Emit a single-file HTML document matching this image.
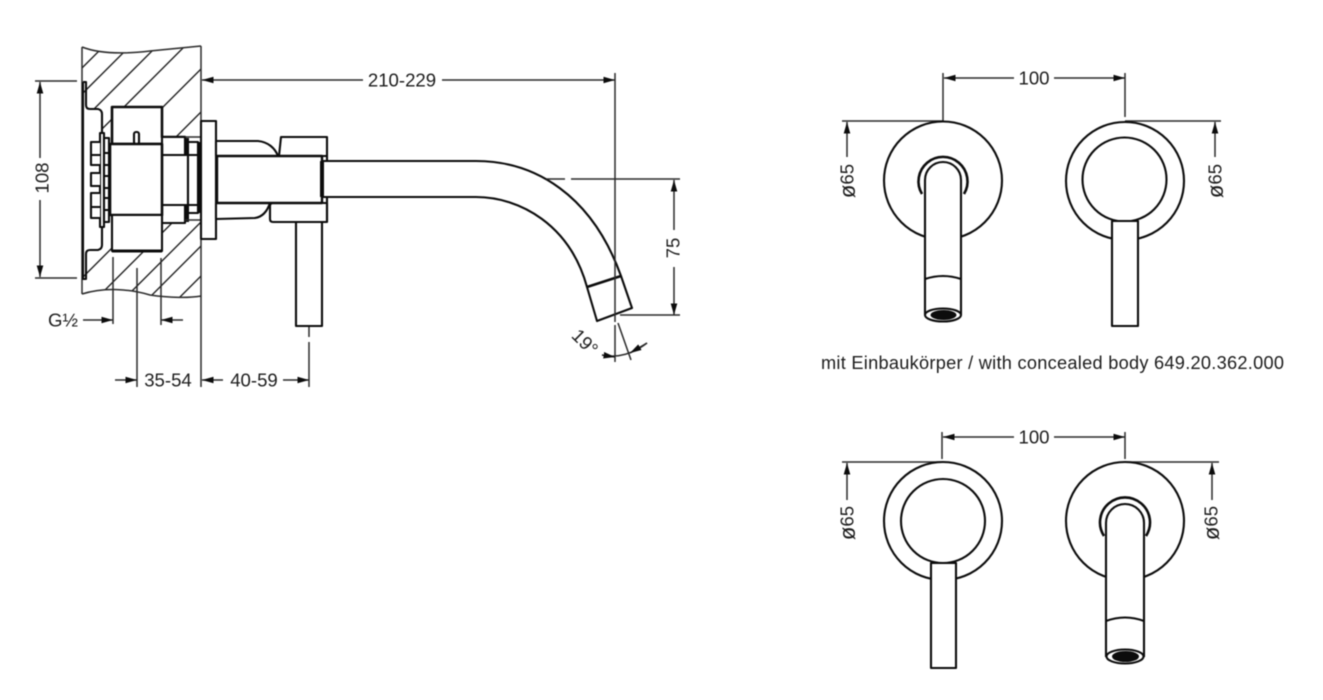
<!DOCTYPE html>
<html><head><meta charset="utf-8"><style>
html,body{margin:0;padding:0;background:#fff;width:1323px;height:700px;overflow:hidden}
svg{display:block;filter:blur(.4px)}
text{font-family:"Liberation Sans",sans-serif;font-size:18.6px;fill:#1c1c1c;text-anchor:middle;dominant-baseline:central}
.o{fill:none;stroke:#0c0c0c;stroke-width:2.1;stroke-linejoin:round}
.w{fill:#fff;stroke:#0c0c0c;stroke-width:2.1;stroke-linejoin:round}
.d{fill:none;stroke:#2a2a2a;stroke-width:1.5}
.h{fill:none;stroke:#222;stroke-width:1.4}
.a{marker-end:url(#ar)}
</style></head><body>
<svg width="1323" height="700" viewBox="0 0 1323 700" xmlns="http://www.w3.org/2000/svg">
<defs>
<marker id="ar" markerUnits="userSpaceOnUse" markerWidth="13" markerHeight="9" refX="11.5" refY="3.5" orient="auto"><path d="M0,0.2L11.5,3.5L0,6.8Z" fill="#0c0c0c"/></marker>
<clipPath id="wall"><path d="M82,47C100,54 125,54 150,51C170,49 190,47 201,46L201,296C190,298 170,298 150,295C130,289 105,287 82,294Z"/></clipPath>
</defs>

<!-- wall -->
<g clip-path="url(#wall)" class="h">
<path d="M60,90L160,-10M60,116L186,-10M60,143L213,-10M60,171L241,-10M60,210L280,-10M60,253L323,-10M60,300L330,30M60,335L330,65M60,363L330,93M60,387L330,117M60,417L330,147"/>
</g>
<path class="d" d="M82,47C100,54 125,54 150,51C170,49 190,47 201,46M82,294C105,287 130,289 150,295C170,298 190,298 201,296M82,47V294M201,46V387"/>
<rect x="83" y="110" width="19" height="139" fill="#fff"/>
<rect x="104" y="137" width="96" height="82" fill="#fff"/>

<!-- bracket -->
<path class="o" d="M83,82H86V105Q86,109 90,109H98Q102,110 102,114V133M83,82V279H86V254Q86,250 90,250H98Q102,249 102,245V226"/>
<rect class="w" x="100" y="133" width="4" height="94"/>
<!-- bolts -->
<path class="w" d="M100,142H91V165H100M100,173H91V186H100M100,193H91V218H100M91,155H100M91,207H100"/>
<path class="w" d="M104,138H109V222H104ZM104,153H109M104,165H109M104,176H109M104,188H109M104,198H109M104,210H109"/>
<!-- body blocks -->
<path class="w" style="stroke-width:2.6" d="M112,144V107H162V137H185V151H162V144Z"/>
<rect class="w" x="134" y="132" width="5" height="12" rx="2"/>
<path class="w" d="M162,155H188V205H162Z"/>
<path class="w" d="M162,205H185V223H162Z"/>
<path class="w" d="M162,137H185V155H162Z"/>
<rect x="185" y="138" width="4" height="17" fill="#0c0c0c"/>
<rect x="185" y="205" width="4" height="17" fill="#0c0c0c"/>
<path class="w" d="M188,142H198V213H188ZM188,155H198M188,205H198"/>
<rect x="197" y="142" width="3" height="71" fill="#0c0c0c"/>
<path class="d" d="M185,137H201M185,220H201"/>
<path class="w" style="stroke-width:2.6" d="M110,144H162V215H110Z"/>
<path class="w" d="M112,215H162V251H112Z"/>
<path d="M112,251H162" stroke="#0c0c0c" stroke-width="3"/>
<rect class="w" x="201" y="121" width="15" height="118"/>

<!-- valve body -->
<path class="w" d="M216,141H258C268,142 275,148 278,156H216Z"/>
<path class="w" d="M216,203H270C267,212 262,217 255,218L216,219Z"/>
<path class="w" d="M281,137H327V156H279Z"/>
<path class="w" d="M273,203H327V222H273Q270,222 270,219V206Q270,203 273,203Z"/>
<rect class="w" x="296" y="222" width="26" height="104"/>
<rect class="w" style="stroke-width:2.4" x="217" y="156" width="105" height="47"/>
<path class="o" d="M327,156V222"/>

<!-- spout -->
<path class="w" d="M322,161H476C535,161 592,195 621,276L632,308L597,321L587,287C570,225 520,197 476,197H322"/>
<path d="M587,287L621,276" stroke="#0c0c0c" stroke-width="2.6"/>
<rect x="320" y="161" width="4" height="36" fill="#0c0c0c"/>

<!-- dimension lines -->
<path class="d a" d="M363,80H202"/>
<path class="d a" d="M442,80H615"/>
<path class="d" d="M615,73V322M615,325V362M546,179H565M571,179H680M620,315H680"/>
<path class="d a" d="M674,230V180"/>
<path class="d a" d="M674,267V315"/>
<path class="d" d="M618,323L631,360"/>
<path class="d" d="M602,355Q625,360 647,343"/>
<path class="d a" d="M602,355L615,357"/>
<path class="d a" d="M647,343L630,353"/>

<path class="d" d="M35,81H77M35,278H77"/>
<path class="d a" d="M40,158V82"/>
<path class="d a" d="M40,200V277"/>

<path class="d a" d="M83,320H113"/>
<path class="d a" d="M183,320H161"/>
<path class="d" d="M113,257V324M161,258V325M137,268V387"/>
<path class="d a" d="M115,380H137"/>
<path class="d a" d="M223,380H202"/>
<path class="d a" d="M283,380H309"/>
<path class="d" d="M309,327V337M309,342V387"/>

<text x="402" y="80">210-229</text>
<text transform="translate(673 248) rotate(-90)">75</text>
<text transform="translate(42 178) rotate(-90)">108</text>
<text x="63" y="320">G½</text>
<text x="168" y="380">35-54</text>
<text x="254" y="380">40-59</text>
<text transform="translate(585 342) rotate(45)">19°</text>

<!-- view 1 -->
<path class="d" d="M943,73V121M1125,73V117M842,121H943M1125,121H1221"/>
<path class="d a" d="M1014,78H944"/>
<path class="d a" d="M1054,78H1125"/>
<path class="d a" d="M847,157V122"/>
<path class="d a" d="M1215,157V122"/>
<text x="1034" y="78">100</text>
<text transform="translate(847 181) rotate(-90)"><tspan style="font-size:22px">ø</tspan>65</text>
<text transform="translate(1215 181) rotate(-90)"><tspan style="font-size:22px">ø</tspan>65</text>
<circle class="w" cx="943" cy="180.5" r="59"/>
<path class="o" style="stroke-width:2.6" d="M922,194A24.5,24.5 0 1 1 964,194"/>
<path d="M925,330V180A18,18 0 0 1 961,180V330Z" fill="#fff"/>
<path class="o" d="M925,315V180A18,18 0 0 1 961,180V315"/>
<path class="o" d="M925,279Q943,273 961,279"/>
<ellipse class="w" cx="943" cy="315" rx="18" ry="6.5"/>
<ellipse cx="943.5" cy="315" rx="13" ry="5" fill="#0c0c0c"/>

<circle class="w" cx="1125" cy="181" r="59"/>
<circle class="w" cx="1124.5" cy="179.5" r="42"/>
<rect class="w" x="1112" y="221" width="26" height="105"/>

<text x="1052.5" y="363" textLength="463" style="font-size:18.2px">mit Einbaukörper / with concealed body 649.20.362.000</text>

<!-- view 2 -->
<path class="d" d="M942,432V459M1125,432V459M842,462H943M1125,462H1219"/>
<path class="d a" d="M1014,437H943"/>
<path class="d a" d="M1054,437H1125"/>
<path class="d a" d="M847,500V463"/>
<path class="d a" d="M1212,500V463"/>
<text x="1034" y="437">100</text>
<text transform="translate(847 523) rotate(-90)"><tspan style="font-size:22px">ø</tspan>65</text>
<text transform="translate(1211 523) rotate(-90)"><tspan style="font-size:22px">ø</tspan>65</text>
<circle class="w" cx="943" cy="521" r="59"/>
<circle class="w" cx="943" cy="521" r="42"/>
<rect class="w" x="931" y="563" width="25" height="105"/>

<circle class="w" cx="1125" cy="521" r="59"/>
<path class="o" style="stroke-width:2.6" d="M1104,536A25,25 0 1 1 1146,536"/>
<path d="M1106,670V523A19,19 0 0 1 1144,523V670Z" fill="#fff"/>
<path class="o" d="M1106,657V523A19,19 0 0 1 1144,523V657"/>
<path class="o" d="M1106,621Q1125,614 1144,621"/>
<ellipse class="w" cx="1125" cy="656.5" rx="18.5" ry="7"/>
<ellipse cx="1125.5" cy="656.5" rx="13.5" ry="5.5" fill="#0c0c0c"/>
</svg>
</body></html>
